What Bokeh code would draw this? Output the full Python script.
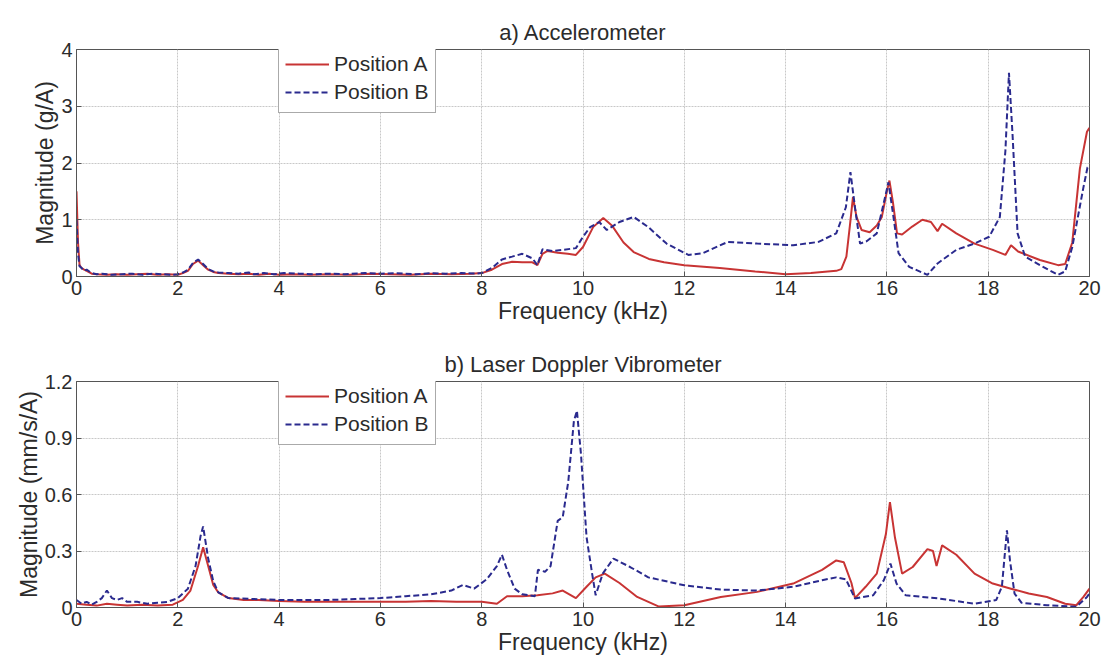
from bokeh.plotting import figure
from bokeh.models import Range1d, FixedTicker, Legend, LegendItem, ColumnDataSource
from bokeh.layouts import column
from bokeh.embed import file_html
from bokeh.resources import INLINE

# ---------------- data ----------------
x_ticks = [0, 2, 4, 6, 8, 10, 12, 14, 16, 18, 20]
x_tick_labels = ["0", "2", "4", "6", "8", "10", "12", "14", "16", "18", "20"]
acc_y_ticks = [0, 1, 2, 3, 4]
acc_y_tick_labels = ["0", "1", "2", "3", "4"]
ldv_y_ticks = [0, 0.3, 0.6, 0.9, 1.2]
ldv_y_tick_labels = ["0", "0.3", "0.6", "0.9", "1.2"]

series_names = ["Position A", "Position B"]
panel_titles = ["a) Accelerometer", "b) Laser Doppler Vibrometer"]
y_labels = ["Magnitude (g/A)", "Magnitude (mm/s/A)"]
x_label = "Frequency (kHz)"

# (frequency kHz, magnitude)
acc_A = [(0, 1.5), (0.03, 0.6), (0.06, 0.2), (0.1, 0.15), (0.15, 0.12), (0.2, 0.1), (0.3, 0.05),
         (0.4, 0.04), (0.6, 0.03), (0.8, 0.04), (1.0, 0.03), (1.2, 0.04), (1.4, 0.05), (1.6, 0.03),
         (1.8, 0.04), (2.0, 0.03), (2.1, 0.06), (2.2, 0.1), (2.3, 0.22), (2.4, 0.28), (2.5, 0.2),
         (2.6, 0.12), (2.7, 0.08), (2.8, 0.06), (3.0, 0.05), (3.2, 0.04), (3.4, 0.05), (3.6, 0.03),
         (3.8, 0.05), (4.0, 0.03), (4.3, 0.04), (4.6, 0.03), (5.0, 0.04), (5.4, 0.03), (5.8, 0.05),
         (6.2, 0.04), (6.6, 0.03), (7.0, 0.05), (7.4, 0.04), (7.8, 0.05), (8.0, 0.06), (8.2, 0.12),
         (8.4, 0.22), (8.6, 0.26), (8.8, 0.25), (9.0, 0.25), (9.1, 0.2), (9.2, 0.4), (9.3, 0.45),
         (9.5, 0.42), (9.7, 0.4), (9.86, 0.38), (10.0, 0.52), (10.2, 0.87), (10.4, 1.03), (10.57, 0.9),
         (10.8, 0.6), (11.0, 0.43), (11.3, 0.31), (11.6, 0.25), (12.0, 0.2), (12.7, 0.15), (13.4, 0.09),
         (14.0, 0.04), (14.5, 0.06), (15.0, 0.1), (15.1, 0.13), (15.2, 0.35), (15.27, 0.9), (15.33, 1.4),
         (15.4, 1.05), (15.5, 0.82), (15.66, 0.78), (15.8, 0.9), (15.9, 1.05), (16.0, 1.5), (16.05, 1.69),
         (16.12, 1.3), (16.2, 0.76), (16.3, 0.74), (16.5, 0.88), (16.7, 1.0), (16.87, 0.96), (17.0, 0.8),
         (17.09, 0.93), (17.37, 0.76), (17.73, 0.58), (18.09, 0.47), (18.34, 0.38), (18.45, 0.55),
         (18.59, 0.44), (19.02, 0.29), (19.38, 0.2), (19.52, 0.22), (19.66, 0.6), (19.81, 1.9),
         (19.95, 2.55), (20.0, 2.62)]

acc_B = [(0, 1.0), (0.03, 0.4), (0.06, 0.18), (0.1, 0.15), (0.15, 0.1), (0.2, 0.12), (0.3, 0.06),
         (0.4, 0.04), (0.5, 0.05), (0.7, 0.03), (0.9, 0.04), (1.1, 0.05), (1.3, 0.03), (1.5, 0.05),
         (1.7, 0.04), (1.9, 0.03), (2.0, 0.04), (2.1, 0.07), (2.2, 0.12), (2.3, 0.24), (2.4, 0.3),
         (2.5, 0.22), (2.6, 0.13), (2.7, 0.09), (2.8, 0.07), (3.0, 0.06), (3.2, 0.05), (3.4, 0.07),
         (3.5, 0.04), (3.7, 0.06), (3.9, 0.04), (4.1, 0.06), (4.4, 0.05), (4.7, 0.04), (5.0, 0.05),
         (5.3, 0.04), (5.7, 0.06), (6.0, 0.05), (6.3, 0.06), (6.7, 0.04), (7.0, 0.06), (7.3, 0.05),
         (7.6, 0.06), (7.9, 0.05), (8.0, 0.06), (8.2, 0.15), (8.4, 0.3), (8.6, 0.35), (8.8, 0.4),
         (9.0, 0.32), (9.1, 0.2), (9.2, 0.48), (9.4, 0.45), (9.6, 0.47), (9.86, 0.5), (10.0, 0.7),
         (10.14, 0.87), (10.32, 0.96), (10.47, 0.82), (10.72, 0.96), (11.0, 1.05), (11.29, 0.87),
         (11.65, 0.58), (12.08, 0.38), (12.36, 0.41), (12.86, 0.61), (13.44, 0.58), (14.15, 0.55),
         (14.65, 0.61), (15.0, 0.76), (15.19, 1.22), (15.28, 1.84), (15.37, 1.22), (15.47, 0.58),
         (15.6, 0.62), (15.8, 0.76), (15.98, 1.46), (16.03, 1.66), (16.12, 1.11), (16.23, 0.41),
         (16.44, 0.17), (16.8, 0.03), (17.0, 0.23), (17.37, 0.47), (17.73, 0.58), (18.02, 0.7),
         (18.23, 1.05), (18.34, 2.22), (18.41, 3.59), (18.48, 2.51), (18.58, 0.76), (18.73, 0.35),
         (19.02, 0.2), (19.38, 0.03), (19.52, 0.09), (19.66, 0.52), (19.88, 1.57), (19.96, 1.92),
         (20.0, 1.95)]

ldv_A = [(0, 0.02), (0.2, 0.015), (0.4, 0.01), (0.6, 0.02), (0.8, 0.015), (1.0, 0.01), (1.3, 0.015),
         (1.6, 0.01), (1.9, 0.015), (2.1, 0.04), (2.25, 0.09), (2.4, 0.22), (2.5, 0.32), (2.6, 0.22),
         (2.7, 0.12), (2.8, 0.08), (3.0, 0.05), (3.3, 0.04), (3.6, 0.04), (4.0, 0.035), (4.5, 0.03),
         (5.0, 0.03), (5.5, 0.03), (6.0, 0.03), (6.5, 0.03), (7.0, 0.035), (7.5, 0.03), (8.0, 0.03),
         (8.3, 0.02), (8.5, 0.06), (8.8, 0.06), (9.1, 0.065), (9.4, 0.075), (9.6, 0.09), (9.86, 0.05),
         (10.07, 0.11), (10.25, 0.16), (10.43, 0.18), (10.72, 0.13), (11.07, 0.056), (11.5, 0.005),
         (12.0, 0.012), (12.72, 0.056), (13.44, 0.083), (14.15, 0.127), (14.72, 0.2), (15.0, 0.25),
         (15.15, 0.24), (15.3, 0.13), (15.37, 0.05), (15.58, 0.11), (15.8, 0.18), (15.98, 0.39),
         (16.06, 0.56), (16.16, 0.37), (16.3, 0.18), (16.51, 0.215), (16.8, 0.31), (16.91, 0.3),
         (16.98, 0.22), (17.09, 0.33), (17.37, 0.28), (17.73, 0.18), (18.09, 0.127), (18.45, 0.1),
         (18.8, 0.074), (19.16, 0.056), (19.52, 0.02), (19.74, 0.012), (19.88, 0.056), (20.0, 0.1)]

ldv_B = [(0, 0.04), (0.1, 0.02), (0.2, 0.03), (0.3, 0.015), (0.4, 0.03), (0.5, 0.05), (0.6, 0.09),
         (0.7, 0.05), (0.8, 0.04), (0.9, 0.05), (1.0, 0.03), (1.2, 0.03), (1.4, 0.02), (1.6, 0.025),
         (1.8, 0.03), (2.0, 0.05), (2.2, 0.1), (2.35, 0.22), (2.45, 0.38), (2.5, 0.43), (2.6, 0.26),
         (2.7, 0.14), (2.8, 0.08), (3.0, 0.05), (3.5, 0.045), (4.0, 0.04), (4.5, 0.04), (5.0, 0.04),
         (5.5, 0.045), (6.0, 0.05), (6.5, 0.06), (7.0, 0.07), (7.4, 0.09), (7.63, 0.12), (7.85, 0.1),
         (8.1, 0.15), (8.3, 0.22), (8.4, 0.28), (8.5, 0.2), (8.65, 0.1), (8.8, 0.07), (9.05, 0.06),
         (9.11, 0.2), (9.25, 0.19), (9.36, 0.22), (9.5, 0.46), (9.6, 0.48), (9.71, 0.67), (9.82, 0.99),
         (9.88, 1.045), (9.96, 0.815), (10.07, 0.374), (10.18, 0.18), (10.25, 0.065), (10.39, 0.18),
         (10.6, 0.26), (10.93, 0.215), (11.29, 0.16), (12.0, 0.118), (12.72, 0.095), (13.44, 0.09),
         (14.15, 0.11), (14.72, 0.145), (15.0, 0.16), (15.19, 0.15), (15.37, 0.048), (15.73, 0.065),
         (15.94, 0.145), (16.07, 0.233), (16.19, 0.127), (16.37, 0.065), (17.02, 0.048), (17.73, 0.02),
         (18.16, 0.04), (18.27, 0.11), (18.34, 0.32), (18.37, 0.41), (18.43, 0.25), (18.52, 0.074),
         (18.66, 0.025), (19.16, 0.012), (19.74, 0.004), (19.95, 0.056), (20.0, 0.074)]

# ---------------- style ----------------
FONT = "Liberation Sans"
RED = "#c83434"
BLUE = "#2a2a8e"
FRAME = "#555555"
TEXT = "#2b2b2b"


def panel(title, ylabel, yticks, ylabels, ymax, dataA, dataB, height, top, bottom, legend_y):
    p = figure(width=1109, height=height, output_backend="svg", toolbar_location=None,
               x_range=Range1d(0, 20), y_range=Range1d(0, ymax),
               min_border_left=76, min_border_right=20, min_border_top=top, min_border_bottom=bottom,
               background_fill_color="white", border_fill_color="white")
    p.title.text = title
    p.title.align = "center"
    p.title.text_font = FONT
    p.title.text_font_size = "22px"
    p.title.text_font_style = "normal"
    p.title.text_color = TEXT
    p.title.standoff = 9

    p.outline_line_color = FRAME
    p.outline_line_width = 1

    p.xaxis.ticker = FixedTicker(ticks=x_ticks)
    p.xaxis.major_label_overrides = dict(zip(x_ticks, x_tick_labels))
    p.yaxis.ticker = FixedTicker(ticks=yticks)
    p.yaxis.major_label_overrides = dict(zip(yticks, ylabels))
    p.xaxis.axis_label = x_label
    p.yaxis.axis_label = ylabel
    for ax in (p.xaxis, p.yaxis):
        ax.axis_line_color = FRAME
        ax.major_tick_line_color = FRAME
        ax.major_tick_in = 5
        ax.major_tick_out = 0
        ax.minor_tick_line_color = None
        ax.major_label_text_font = FONT
        ax.major_label_text_font_size = "20px"
        ax.major_label_text_color = TEXT
        ax.axis_label_text_font = FONT
        ax.axis_label_text_font_size = "23px"
        ax.axis_label_text_font_style = "normal"
        ax.axis_label_text_color = TEXT
        ax.major_label_standoff = 4
        ax.axis_label_standoff = 0

    p.xgrid.ticker = FixedTicker(ticks=x_ticks)
    p.ygrid.ticker = FixedTicker(ticks=yticks)
    for g in (p.xgrid, p.ygrid):
        g.grid_line_color = "#c8c8c8"
        g.grid_line_dash = "2 1"
        g.grid_line_width = 1

    srcA = ColumnDataSource(dict(f=[d[0] for d in dataA], m=[d[1] for d in dataA]))
    srcB = ColumnDataSource(dict(f=[d[0] for d in dataB], m=[d[1] for d in dataB]))
    rA = p.line("f", "m", source=srcA, line_color=RED, line_width=2)
    rB = p.line("f", "m", source=srcB, line_color=BLUE, line_width=2, line_dash="6 3")

    leg = Legend(items=[LegendItem(label=series_names[0], renderers=[rA]),
                        LegendItem(label=series_names[1], renderers=[rB])],
                 location=(202, legend_y))
    leg.label_text_font = FONT
    leg.label_text_font_size = "21px"
    leg.label_text_color = TEXT
    leg.glyph_width = 44
    leg.glyph_height = 28
    leg.label_height = 28
    leg.label_standoff = 5
    leg.padding = 6
    leg.spacing = 0
    leg.margin = 0
    leg.border_line_color = FRAME
    leg.border_line_width = 1
    leg.background_fill_color = "white"
    leg.background_fill_alpha = 1
    p.add_layout(leg)
    return p


p1 = panel(panel_titles[0], y_labels[0], acc_y_ticks, acc_y_tick_labels, 4, acc_A, acc_B,
           height=334, top=49, bottom=58, legend_y=163)
p2 = panel(panel_titles[1], y_labels[1], ldv_y_ticks, ldv_y_tick_labels, 1.2, ldv_A, ldv_B,
           height=330, top=47, bottom=57, legend_y=162)

layout = column(p1, p2, spacing=0)
open("out.html", "w").write(file_html(layout, INLINE))
